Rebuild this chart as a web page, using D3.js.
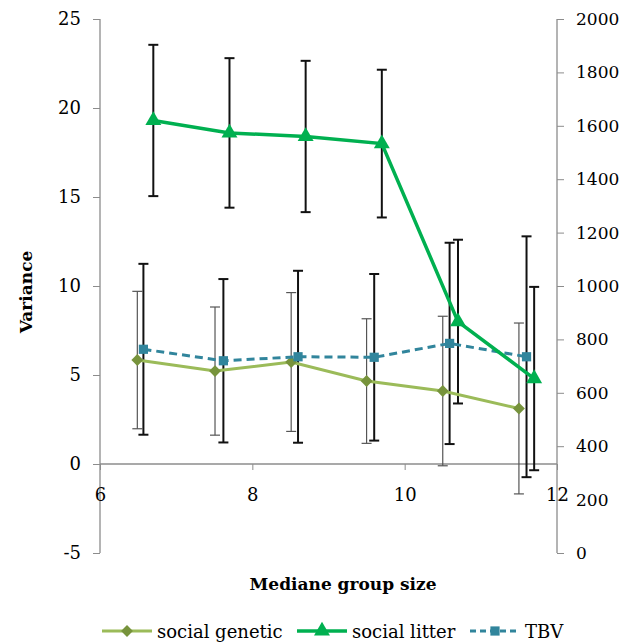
<!DOCTYPE html>
<html>
<head>
<meta charset="utf-8">
<style>
  body { margin: 0; background: #fff; }
</style>
</head>
<body>
<div id="chart"></div>
<script src="https://cdn.jsdelivr.net/npm/d3@7"></script>
<script>
// values
var xGenetic = [6.49, 7.51, 8.51, 9.5, 10.5, 11.5];
var genetic = [5.84, 5.22, 5.73, 4.66, 4.1, 3.12];
var geneticErr = [3.86, 3.6, 3.9, 3.5, 4.2, 4.8];

var xLitter = [6.7, 7.7, 8.7, 9.7, 10.7, 11.7];
var litter = [19.3, 18.6, 18.4, 18.0, 8.0, 4.8];
var litterErr = [4.25, 4.2, 4.25, 4.15, 4.6, 5.15];

var xTBV = [6.57, 7.62, 8.6, 9.6, 10.59, 11.6];
var tbv = [763, 720, 735, 733, 785, 735];
var tbvErr = [320, 306, 322, 312, 377, 451];

var leftTicks = [-5, 0, 5, 10, 15, 20, 25];
var rightTicks = [0, 200, 400, 600, 800, 1000, 1200, 1400, 1600, 1800, 2000];
var xTicks = [6, 8, 10, 12];
var seriesNames = ["social genetic", "social litter", "TBV"];

var width = 626, height = 644;
var axisColor = "#8c8c8c";
var serif = "'DejaVu Serif', serif";
var plain = function(d) { return String(d); };

var svg = d3.select("#chart").append("svg")
  .attr("width", width).attr("height", height)
  .style("font-family", serif);

var x = d3.scaleLinear().domain([6, 12]).range([100, 557]);
var yL = d3.scaleLinear().domain([-5, 25]).range([553, 19]);
var yR = d3.scaleLinear().domain([0, 2000]).range([553, 19]);

// left axis
var gl = svg.append("g").attr("transform", "translate(100,0)")
  .call(d3.axisLeft(yL).tickValues(leftTicks).tickFormat(plain).tickSize(7).tickPadding(12));
gl.attr("font-family", null);
gl.selectAll("text").style("font-size", "18px").attr("x", -19);
gl.selectAll("line,path").attr("stroke", axisColor);
gl.select(".domain").attr("d", "M0," + yL(25) + "V" + yL(-5)).attr("stroke-width", 1.3);

// right axis
var gr = svg.append("g").attr("transform", "translate(557,0)")
  .call(d3.axisRight(yR).tickValues(rightTicks).tickFormat(plain).tickSize(7).tickPadding(12));
gr.attr("font-family", null);
gr.selectAll("text").style("font-size", "17px").attr("x", 19);
gr.selectAll("line,path").attr("stroke", axisColor);
gr.select(".domain").attr("d", "M0," + yR(2000) + "V" + yR(0)).attr("stroke-width", 1.3);

// x axis at y = 0
var gx = svg.append("g").attr("transform", "translate(0," + yL(0) + ")")
  .call(d3.axisBottom(x).tickValues(xTicks).tickFormat(plain).tickSize(6).tickPadding(18));
gx.attr("font-family", null);
gx.selectAll("line,path").attr("stroke", axisColor);
gx.select(".domain").attr("d", "M" + x(6) + ",0H" + x(12)).attr("stroke-width", 1.3);
gx.selectAll("text").style("font-size", "18px");

// error bars
function errorBars(xs, ys, errs, scale, color, sw) {
  var g = svg.append("g").attr("stroke", color).attr("stroke-width", sw).attr("fill", "none");
  xs.forEach(function(d, i) {
    var cx = x(d), top = scale(ys[i] + errs[i]), bot = scale(ys[i] - errs[i]);
    g.append("line").attr("x1", cx).attr("x2", cx).attr("y1", top).attr("y2", bot);
    g.append("line").attr("x1", cx - 5).attr("x2", cx + 5).attr("y1", top).attr("y2", top);
    g.append("line").attr("x1", cx - 5).attr("x2", cx + 5).attr("y1", bot).attr("y2", bot);
  });
}
errorBars(xGenetic, genetic, geneticErr, yL, "#555", 1.2);
errorBars(xTBV, tbv, tbvErr, yR, "#111", 2);
errorBars(xLitter, litter, litterErr, yL, "#111", 2);

var diamond = d3.symbol().type(d3.symbolDiamond2).size(90);
var triangle = d3.symbol().type(d3.symbolTriangle).size(110);
var square = d3.symbol().type(d3.symbolSquare).size(85);

function series(xs, ys, scale, lineColor, markColor, sw, dash, sym) {
  var pts = xs.map(function(d, i) { return [x(d), scale(ys[i])]; });
  svg.append("path").attr("d", d3.line()(pts))
    .attr("fill", "none").attr("stroke", lineColor).attr("stroke-width", sw)
    .attr("stroke-dasharray", dash);
  svg.append("g").selectAll("path").data(pts).enter().append("path")
    .attr("d", sym).attr("fill", markColor)
    .attr("transform", function(p) { return "translate(" + p[0] + "," + p[1] + ")"; });
}
series(xGenetic, genetic, yL, "#9bbb59", "#77933c", 3, null, diamond);
series(xTBV, tbv, yR, "#31859c", "#31859c", 3, "8,5", square);
series(xLitter, litter, yL, "#00b050", "#00b050", 3.5, null, triangle);

// axis titles
svg.append("text").attr("x", 343).attr("y", 590).attr("text-anchor", "middle")
  .style("font-size", "17px").style("font-weight", "bold").text("Mediane group size");
svg.append("text").attr("transform", "translate(32,292) rotate(-90)").attr("text-anchor", "middle")
  .style("font-size", "17px").style("font-weight", "bold").text("Variance");

// legend
var legendItems = [
  { x: 102, line: "#9bbb59", mark: "#77933c", dash: null, sym: diamond, sw: 3 },
  { x: 297, line: "#00b050", mark: "#00b050", dash: null, sym: triangle, sw: 3.5 },
  { x: 470, line: "#31859c", mark: "#31859c", dash: "6,4", sym: square, sw: 3 }
];
var lg = svg.append("g").selectAll("g").data(legendItems).enter().append("g")
  .attr("transform", function(d) { return "translate(" + d.x + ",631)"; });
lg.append("line").attr("x1", 0).attr("x2", 50)
  .attr("stroke", function(d) { return d.line; })
  .attr("stroke-width", function(d) { return d.sw; })
  .attr("stroke-dasharray", function(d) { return d.dash; });
lg.append("path").attr("d", function(d) { return d.sym(); })
  .attr("fill", function(d) { return d.mark; })
  .attr("transform", "translate(25,0)");
lg.append("text").attr("x", 55).attr("y", 7).style("font-size", "18px")
  .text(function(d, i) { return seriesNames[i]; });
</script>
</body>
</html>
